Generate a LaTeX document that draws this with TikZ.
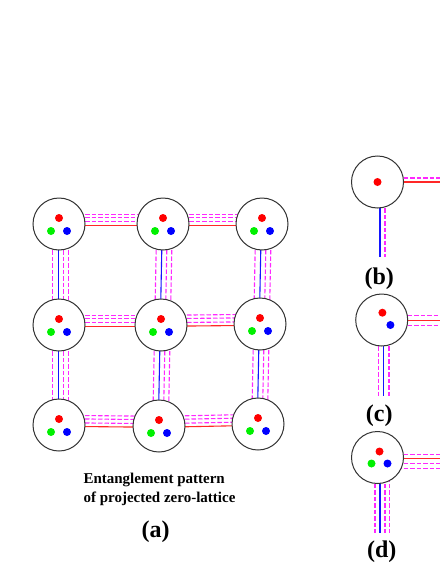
\documentclass[tikz,border=0pt]{standalone}
\usepackage{fontspec}
\setmainfont{Liberation Serif}
\usepackage{tikz}
\usetikzlibrary{backgrounds}
\definecolor{LinkRed}{RGB}{255,40,40}
\definecolor{LinkBlue}{RGB}{20,20,255}
\definecolor{LinkPink}{RGB}{255,40,255}
\definecolor{DotRed}{RGB}{255,0,0}
\definecolor{DotGreen}{RGB}{0,240,0}
\definecolor{DotBlue}{RGB}{0,0,255}

\begin{document}
\begin{tikzpicture}[x=1pt, y=-1pt,
  site/.style={circle, draw=black!80, fill=white, line width=1pt,
    minimum size=52pt, inner sep=0pt},
  rbond/.style={LinkRed, line width=1.1pt},
  bbond/.style={LinkBlue, line width=1.1pt},
  pbond/.style={LinkPink, line width=1.1pt, dash pattern=on 4.5pt off 2pt},
  tag/.style={font=\bfseries\fontsize{24}{28}\selectfont},
  caption/.style={font=\bfseries\fontsize{15}{18.5}\selectfont, align=left}
]
\useasboundingbox (0,0) rectangle (440,570);

% (a) projected zero-lattice
\node[site] (s11) at (59,224)   {};
\node[site] (s12) at (163,224)  {};
\node[site] (s13) at (262,224)  {};
\node[site] (s21) at (59,325)   {};
\node[site] (s22) at (161,325)  {};
\node[site] (s23) at (260,324)  {};
\node[site] (s31) at (59,425)   {};
\node[site] (s32) at (159,426)  {};
\node[site] (s33) at (258,424)  {};

\foreach \s in {s11,s12,s13,s21,s22,s23,s31,s32,s33} {
  \fill[DotRed]   ([shift={(0,-6)}]\s.center) circle (4);
  \fill[DotGreen] ([shift={(-8,7)}]\s.center) circle (4);
  \fill[DotBlue]  ([shift={(8,7)}]\s.center) circle (4);
}

\begin{scope}[on background layer]
\foreach \a/\b in {s11/s12, s12/s13, s21/s22, s22/s23, s31/s32, s32/s33} {
  \draw[rbond] ([yshift=-1.3pt]\a.center) -- ([yshift=-1.3pt]\b.center);
  \foreach \d in {2.3, 6.3, 9.7}
    \draw[pbond] ([yshift=\d pt]\a.center) -- ([yshift=\d pt]\b.center);
}
\foreach \a/\b in {s11/s21, s21/s31, s12/s22, s22/s32, s13/s23, s23/s33} {
  \draw[bbond] ([xshift=-0.7pt]\a.center) -- ([xshift=-0.7pt]\b.center);
  \foreach \d in {-6.3, 4.3, 9.3}
    \draw[pbond] ([xshift=\d pt]\a.center) -- ([xshift=\d pt]\b.center);
}
\end{scope}

\node[caption, anchor=west] (cap) at (80,489.5)
  {Entanglement pattern\\of projected zero-lattice};
\node[tag] (la) at (155.7,531.7) {(a)};

% (b) one red
\node[site] (sb) at (377.5,182) {};
\fill[DotRed] (sb.center) circle (4);
\coordinate (bR) at (440,182);
\coordinate (bD) at (377.5,257);
\begin{scope}[on background layer]
\draw[rbond] (sb.center) -- (bR);
\draw[pbond] ([yshift=4pt]sb.center) -- ([yshift=4pt]bR);
\draw[bbond] ([xshift=2.5pt]sb.center) -- ([xshift=2.5pt]bD);
\draw[pbond] ([xshift=7.5pt]sb.center) -- ([xshift=7.5pt]bD);
\end{scope}
\node[tag] (lb) at (379.3,278.3) {(b)};

% (c) red and blue
\node[site] (sc) at (381.7,320) {};
\fill[DotRed]  ([shift={(0.7,-7.3)}]sc.center) circle (4);
\fill[DotBlue] ([shift={(8.7,5)}]sc.center) circle (4);
\coordinate (cR) at (440,320);
\coordinate (cD) at (381.7,396);
\begin{scope}[on background layer]
\draw[rbond] ([yshift=-0.7pt]sc.center) -- ([yshift=-0.7pt]cR);
\foreach \d in {4.3, -5.3}
  \draw[pbond] ([yshift=\d pt]sc.center) -- ([yshift=\d pt]cR);
\draw[bbond] ([xshift=1.6pt]sc.center) -- ([xshift=1.6pt]cD);
\foreach \d in {-3.4, 7.3}
  \draw[pbond] ([xshift=\d pt]sc.center) -- ([xshift=\d pt]cD);
\end{scope}
\node[tag] (lc) at (379.3,416) {(c)};

% (d) all three
\node[site] (sd) at (377.5,457.5) {};
\fill[DotRed]   ([shift={(2,-6)}]sd.center) circle (4);
\fill[DotGreen] ([shift={(-6,6)}]sd.center) circle (4);
\fill[DotBlue]  ([shift={(10,6)}]sd.center) circle (4);
\coordinate (dR) at (440,457.5);
\coordinate (dD) at (377.5,533);
\begin{scope}[on background layer]
\draw[rbond] ([yshift=-1pt]sd.center) -- ([yshift=-1pt]dR);
\foreach \d in {3, -6, -11}
  \draw[pbond] ([yshift=\d pt]sd.center) -- ([yshift=\d pt]dR);
\draw[bbond] ([xshift=2.5pt]sd.center) -- ([xshift=2.5pt]dD);
\foreach \d in {-2.5, 7.5, 11.8}
  \draw[pbond] ([xshift=\d pt]sd.center) -- ([xshift=\d pt]dD);
\end{scope}
\node[tag] (ld) at (381.7,551.7) {(d)};
\end{tikzpicture}
\end{document}
